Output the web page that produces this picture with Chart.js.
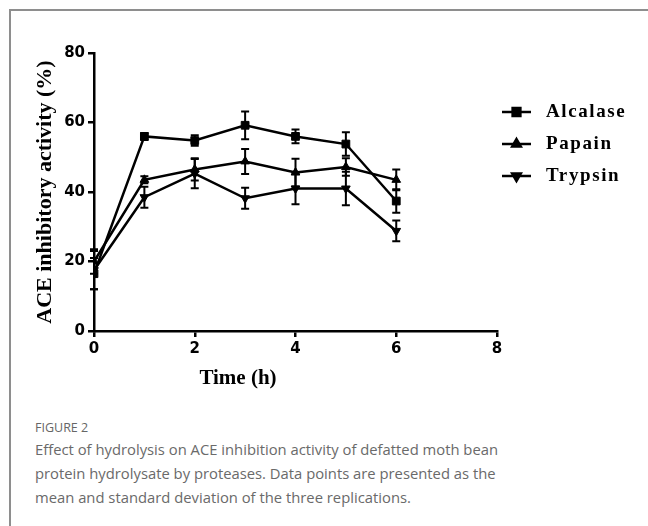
<!DOCTYPE html>
<html>
<head>
<meta charset="utf-8">
<script src="https://cdn.jsdelivr.net/npm/chart.js@4"></script>
<style>
  body { margin: 0; width: 648px; height: 526px; background: #fff; position: relative; overflow: hidden; }
  #frame { position: absolute; left: 9px; top: 9px; width: 700px; height: 600px;
           border-top: 2px solid #8e8e8e; border-left: 2px solid #8e8e8e; }
  #wrap { position: absolute; left: 0; top: 0; width: 648px; height: 400px; }
  #xtitle { position: absolute; left: 138px; top: 365px; width: 200px; text-align: center;
            font: bold 21px "Liberation Serif", serif; color: #000; }
  #figlabel { position: absolute; left: 35px; top: 419px; font: 12.5px "Open Sans", sans-serif; color: #666; }
  #caption { position: absolute; left: 35px; top: 437px; font: 14.8px/24px "Open Sans", sans-serif; color: #6a6a6a; }
</style>
</head>
<body>
<div id="frame"></div>
<div id="wrap"><canvas id="chart" width="648" height="400"></canvas></div>
<div id="xtitle">Time (h)</div>
<div id="figlabel">FIGURE 2</div>
<div id="caption">Effect of hydrolysis on ACE inhibition activity of defatted moth bean<br>protein hydrolysate by proteases. Data points are presented as the<br>mean and standard deviation of the three replications.</div>
<script>
// hydrolysis time (h)
const times = [0, 1, 2, 3, 4, 5, 6];

// ACE inhibitory activity (%) - means
const alcalase = [16.5, 56.0, 54.8, 59.2, 56.0, 53.8, 37.4];
const papain   = [20.0, 43.5, 46.5, 48.8, 45.6, 47.2, 43.5];
const trypsin  = [17.5, 38.5, 45.3, 38.2, 41.0, 41.0, 28.8];

// standard deviations
const alcalaseSd = [4.5, 1.0, 1.5, 4.0, 2.0, 3.4, 3.4];
const papainSd   = [3.5, 1.0, 3.2, 3.6, 4.0, 2.5, 3.0];
const trypsinSd  = [5.5, 3.0, 4.2, 3.0, 4.5, 4.8, 3.0];

const xTicks = [0, 2, 4, 6, 8];
const yTicks = [0, 20, 40, 60, 80];

const seriesNames = ['Alcalase', 'Papain', 'Trypsin'];

function toPoints(vals) {
    return vals.map((v, i) => ({ x: times[i], y: v }));
}

// draws the SD whiskers for each point
const errorBars = {
    id: 'errorBars',
    beforeDatasetsDraw(chart) {
        const ctx = chart.ctx;
        const yScale = chart.scales.y;
        ctx.save();
        ctx.strokeStyle = '#000';
        ctx.lineWidth = 2;
        chart.data.datasets.forEach((ds, di) => {
            const meta = chart.getDatasetMeta(di);
            meta.data.forEach((pt, i) => {
                const v = ds.data[i].y;
                const sd = ds.sd[i];
                const top = yScale.getPixelForValue(v + sd);
                const bot = yScale.getPixelForValue(v - sd);
                ctx.beginPath();
                ctx.moveTo(pt.x, top); ctx.lineTo(pt.x, bot);
                ctx.moveTo(pt.x - 4, top); ctx.lineTo(pt.x + 4, top);
                ctx.moveTo(pt.x - 4, bot); ctx.lineTo(pt.x + 4, bot);
                ctx.stroke();
            });
        });
        ctx.restore();
    }
};

// legend with a short line through the marker
const lineLegend = {
    id: 'lineLegend',
    afterDraw(chart) {
        const ctx = chart.ctx;
        ctx.save();
        chart.data.datasets.forEach((ds, i) => {
            const y = 112 + i * 32;
            ctx.strokeStyle = '#000';
            ctx.lineWidth = 2.5;
            ctx.beginPath();
            ctx.moveTo(502, y); ctx.lineTo(531, y);
            ctx.stroke();
            ctx.fillStyle = '#000';
            Chart.helpers.drawPoint(ctx, {
                pointStyle: ds.pointStyle,
                radius: ds.pointRadius,
                rotation: ds.pointRotation || 0,
                borderWidth: 1
            }, 516.5, y);
            ctx.fill();
            ctx.font = 'bold 19px "Liberation Serif", serif';
            ctx.letterSpacing = '1.6px';
            ctx.textBaseline = 'middle';
            ctx.fillText(ds.label, 546, y);
        });
        ctx.restore();
    }
};

function series(label, vals, sd, style, rot) {
    return {
        label: label,
        data: toPoints(vals),
        sd: sd,
        borderColor: '#000',
        backgroundColor: '#000',
        borderWidth: 2.5,
        pointStyle: style,
        pointRotation: rot,
        pointRadius: style === 'rect' ? 5.5 : 5,
        pointBorderWidth: 1,
        tension: 0
    };
}

new Chart(document.getElementById('chart'), {
    type: 'line',
    data: {
        datasets: [
            series(seriesNames[0], alcalase, alcalaseSd, 'rect', 0),
            series(seriesNames[1], papain, papainSd, 'triangle', 0),
            series(seriesNames[2], trypsin, trypsinSd, 'triangle', 180)
        ]
    },
    options: {
        responsive: false,
        animation: false,
        layout: { padding: { left: 0, top: 53, right: 151, bottom: 0 } },
        plugins: { legend: { display: false }, tooltip: { enabled: false } },
        scales: {
            x: {
                type: 'linear',
                min: 0, max: 8,
                afterBuildTicks: s => { s.ticks = xTicks.map(v => ({ value: v })); },
                afterFit: s => { s.height = 69; },
                ticks: { color: '#000', padding: 3, font: { family: 'DejaVu Sans', weight: 'bold', size: 15 } },
                grid: { drawOnChartArea: false, drawTicks: true, tickLength: 6, color: '#000', lineWidth: 2.5 },
                border: { color: '#000', width: 2.5 }
            },
            y: {
                min: 0, max: 80,
                afterBuildTicks: s => { s.ticks = yTicks.map(v => ({ value: v })); },
                afterFit: s => { s.width = 94; },
                ticks: { color: '#000', padding: 3, font: { family: 'DejaVu Sans', weight: 'bold', size: 15 } },
                grid: { drawOnChartArea: false, drawTicks: true, tickLength: 6, color: '#000', lineWidth: 2.5 },
                border: { color: '#000', width: 2.5 },
                title: {
                    display: true,
                    text: 'ACE inhibitory activity (%)',
                    color: '#000',
                    font: { family: 'Liberation Serif', weight: 'bold', size: 22 },
                    padding: { top: 32, bottom: 0 }
                }
            }
        }
    },
    plugins: [errorBars, lineLegend]
});
</script>
</body>
</html>
